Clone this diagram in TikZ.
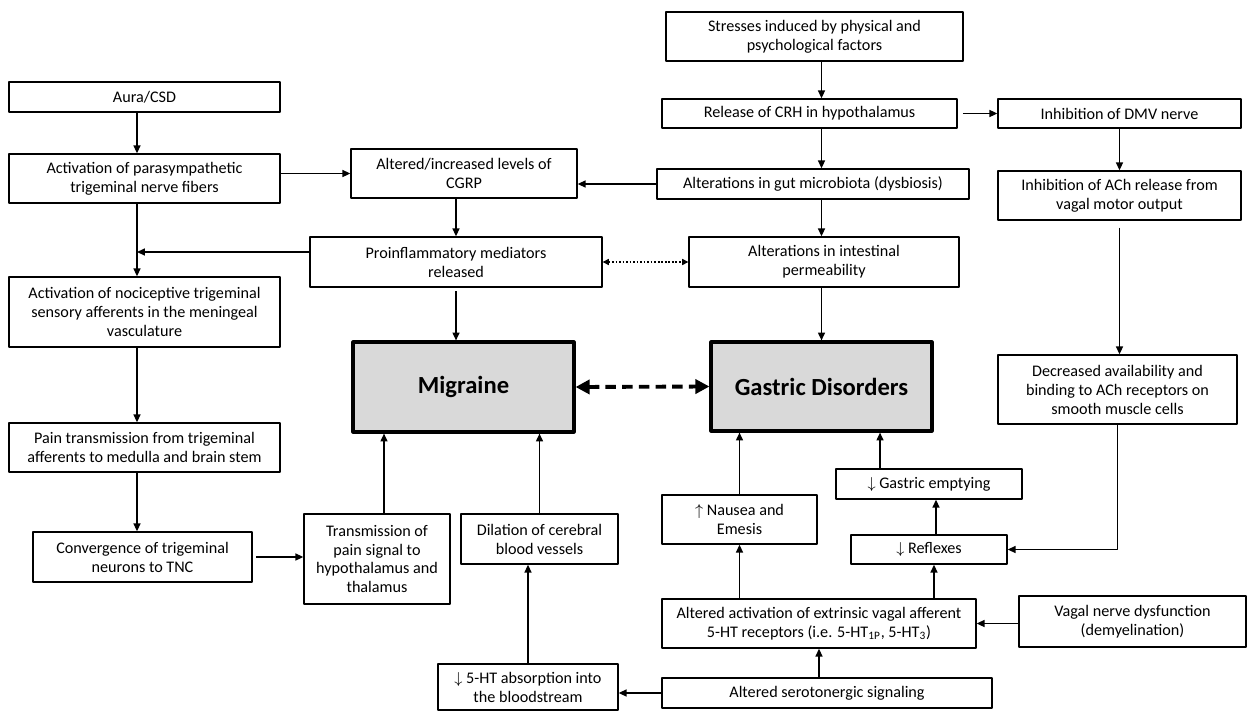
\documentclass[tikz,border=0pt]{standalone}
\usepackage{fontspec}
\setmainfont{Carlito}
\usetikzlibrary{arrows.meta,calc}

\tikzset{
  box/.style={draw, line width=0.8pt, align=center, inner sep=0pt,
    font=\fontsize{9.2}{10.8}\selectfont},
  mainbox/.style={draw, line width=1.8pt, fill=black!15, align=center, inner sep=0pt,
    font=\fontsize{14}{16}\selectfont\bfseries},
  arr/.style={-{Triangle[length=4.5pt,width=4pt]}, line width=0.8pt},
  dotarr/.style={{Triangle[length=3.5pt,width=3.5pt]}-{Triangle[length=3.5pt,width=3.5pt]},
    line width=0.6pt, dash pattern=on 1pt off 1pt},
  bigarr/.style={{Triangle[length=8pt,width=8pt]}-{Triangle[length=8pt,width=8pt]},
    line width=2.2pt, dash pattern=on 6pt off 3.5pt},
}

\begin{document}
\begin{tikzpicture}[x=0.02cm, y=-0.02cm, line join=round]

\useasboundingbox (0,0) rectangle (1247,710);

\node (aura) at (144.5, 97) [box, minimum width=5.42cm, minimum height=0.6cm] {Aura/CSD};
\node (para) at (144.5, 178.5) [box, minimum width=5.42cm, minimum height=0.98cm]
  {Activation of parasympathetic\\trigeminal nerve fibers};
\node (noci) at (144.5, 312) [box, minimum width=5.42cm, minimum height=1.4cm]
  {Activation of nociceptive trigeminal\\sensory afferents in the meningeal\\vasculature};
\node (pain) at (144.5, 447.5) [box, minimum width=5.42cm, minimum height=0.98cm]
  {Pain transmission from  trigeminal\\afferents to medulla and brain stem};
\node (conv) at (142.5, 557) [box, minimum width=4.38cm, minimum height=1.0cm]
  {Convergence of trigeminal\\neurons to TNC};

\node (cgrp) at (464, 173.5) [box, minimum width=4.52cm, minimum height=0.98cm]
  {Altered/increased levels of\\CGRP};
\node (proinf) at (456, 262) [box, minimum width=5.84cm, minimum height=1.0cm]
  {Proinflammatory  mediators\\released};
\node (migraine) at (463.5, 387) [mainbox, minimum width=4.42cm, minimum height=1.8cm] {Migraine};
\node (trans) at (377, 559) [box, minimum width=2.92cm, minimum height=1.8cm]
  {Transmission of\\pain signal to\\hypothalamus  and\\thalamus};
\node (dil) at (539.5, 539) [box, minimum width=3.14cm, minimum height=1.0cm]
  {Dilation of cerebral\\blood vessels};
\node (absorb) at (528, 687) [box, minimum width=3.6cm, minimum height=0.92cm]
  {$\downarrow$ 5-HT absorption into\\the bloodstream};

\node (stress) at (814.5, 36.5) [box, minimum width=5.94cm, minimum height=0.98cm]
  {Stresses induced by physical and\\psychological factors};
\node (crh) at (809.5, 113.5) [box, minimum width=5.9cm, minimum height=0.58cm]
  {Release of CRH in hypothalamus};
\node (gut) at (813, 184) [box, minimum width=6.24cm, minimum height=0.6cm]
  {Alterations in gut microbiota  (dysbiosis)};
\node (perm) at (824, 262) [box, minimum width=5.4cm, minimum height=1.0cm]
  {Alterations in intestinal\\permeability};
\node (gastric) at (821.5, 386.5) [mainbox, minimum width=4.42cm, minimum height=1.78cm]
  {Gastric Disorders};
\node (nausea) at (739.5, 519.5) [box, minimum width=3.1cm, minimum height=0.98cm]
  {$\uparrow$ Nausea and\\Emesis};
\node (act) at (819, 623.5) [box, minimum width=6.28cm, minimum height=0.98cm]
  {Altered activation of extrinsic vagal afferent\\5-HT receptors  (i.e. 5-HT\textsubscript{1P}, 5-HT\textsubscript{3})};
\node (sero) at (827, 693) [box, minimum width=6.6cm, minimum height=0.6cm]
  {Altered serotonergic signaling};

\node (dmv) at (1119.5, 113.5) [box, minimum width=4.86cm, minimum height=0.58cm]
  {Inhibition of DMV nerve};
\node (ach) at (1119.5, 195.5) [box, minimum width=4.86cm, minimum height=0.98cm]
  {Inhibition of ACh release from\\vagal motor output};
\node (decr) at (1117.5, 389.5) [box, minimum width=4.78cm, minimum height=1.38cm]
  {Decreased availability and\\binding to ACh receptors on\\smooth muscle cells};
\node (empty) at (929, 484) [box, minimum width=3.72cm, minimum height=0.6cm]
  {$\downarrow$ Gastric emptying};
\node (reflex) at (929, 549.5) [box, minimum width=3.12cm, minimum height=0.58cm]
  {$\downarrow$ Reflexes};
\node (vagal) at (1132.5, 621.5) [box, minimum width=4.54cm, minimum height=1.02cm]
  {Vagal nerve dysfunction\\(demyelination)};

\coordinate (jn) at ($(para.south)+(-7.5,0)$);
\coordinate (pj) at ($(proinf.west)+(0,-10)$);

\draw[arr] ([xshift=-0.15cm]aura.south) -- ([xshift=-0.15cm]para.north);
\draw[arr] ([xshift=-0.15cm]para.south) -- ([xshift=-0.15cm]noci.north);
\draw[arr] ([xshift=-0.15cm]noci.south) -- ([xshift=-0.15cm]pain.north);
\draw[arr] ([xshift=-0.15cm]pain.south) -- ([xshift=-0.15cm]pain.south |- conv.north);
\draw[arr] (pj) -- (pj -| jn);
\draw[arr, shorten <=2pt] (conv.east) -- (conv.east -| trans.west);

\draw[arr] (para.east |- cgrp) -- (cgrp.west);
\draw[arr] (gut.west) -- (gut.west -| cgrp.east);
\draw[arr] (cgrp.south -| proinf) -- (proinf.north);
\draw[arr, shorten <=2pt] (proinf.south) -- (proinf.south |- migraine.north);
\draw[dotarr] (proinf.east) -- (perm.west);
\draw[bigarr] (migraine.east) -- (gastric.west);

\draw[arr] ([xshift=0.14cm]trans.north) -- ([xshift=0.14cm]trans.north |- migraine.south);
\draw[arr] (dil.north) -- (dil.north |- migraine.south);
\draw[arr] (absorb.north) -- (absorb.north |- dil.south);
\draw[arr] (sero.west) -- (sero.west -| absorb.east);

\draw[arr] (stress.south -| gastric) -- (crh.north -| gastric);
\draw[arr] (crh.south -| gastric) -- (gut.north -| gastric);
\draw[arr] (gut.south -| gastric) -- (perm.north -| gastric);
\draw[arr] (perm.south -| gastric) -- (gastric.north);
\draw[arr, shorten <=3pt] (crh.east) -- (dmv.west);

\draw[arr] (dmv.south) -- (ach.north);
\draw[arr, shorten <=4pt] (ach.south) -- (ach.south |- decr.north);
\draw[arr] (decr.south) |- (reflex.east);

\draw[arr] (nausea.north) -- (nausea.north |- gastric.south);
\draw[arr] ([xshift=-0.98cm]empty.north) -- ([xshift=-0.98cm]empty.north |- gastric.south);
\draw[arr] ([xshift=0.14cm]reflex.north) -- ([xshift=0.14cm]empty.south);
\draw[arr] ([xshift=0.1cm]act.north -| reflex) -- ([xshift=0.1cm]reflex.south);
\draw[arr] (act.north -| nausea) -- (nausea.south);
\draw[arr] (vagal.west |- act) -- (act.east);
\draw[arr] (sero.north -| act) -- (act.south);

\end{tikzpicture}
\end{document}
